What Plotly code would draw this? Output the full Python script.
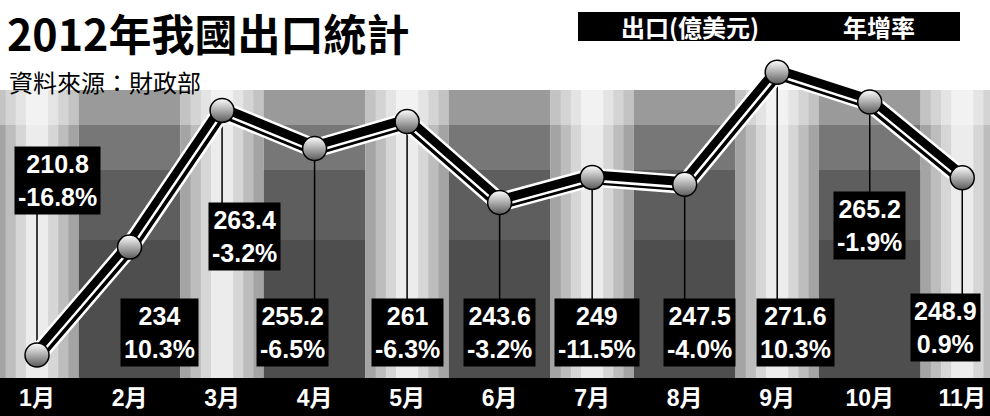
import plotly.graph_objects as go

# ---------------- data ----------------
months = ["1月", "2月", "3月", "4月", "5月", "6月", "7月", "8月", "9月", "10月", "11月"]
exports = [210.8, 234, 263.4, 255.2, 261, 243.6, 249, 247.5, 271.6, 265.2, 248.9]
growth = ["-16.8%", "10.3%", "-3.2%", "-6.5%", "-6.3%", "-3.2%", "-11.5%", "-4.0%", "10.3%", "-1.9%", "0.9%"]
export_labels = ["210.8", "234", "263.4", "255.2", "261", "243.6", "249", "247.5", "271.6", "265.2", "248.9"]

title = "2012年我國出口統計"
source = "資料來源：財政部"
legend_export = "出口(億美元)"
legend_growth = "年增率"

# ---------------- layout constants ----------------
W, H = 990, 416
BAND = 38                       # black month band at bottom
PH = H - BAND                   # plot height in px
YMIN, YMAX = 205.85, 287.15
XMIN, XMAX = -0.4, 10.3

def py(pix):                    # pixel row (from top) -> paper y
    return 1 - pix / PH

def pdata(pix):                 # pixel row -> data y
    return YMIN + (PH - pix) / PH * (YMAX - YMIN)

# label box style positions (pixel row of box centre, x offset in category units)
label_row = [180, 332, 236, 332, 332, 332, 332, 332, 332, 225, 327]
label_dx = [0.22, 0.32, 0.24, -0.24, 0.0, 0.0, 0.05, 0.16, 0.2, 0.0, -0.18]
draw_stem = [True, False, True, True, True, True, True, True, True, True, True]

CJK = "Noto Sans CJK TC"
NUM = "Liberation Sans, Noto Sans CJK TC"

fig = go.Figure()

# ---------------- background columns ----------------
col_top = 90
shapes = []
for i in range(len(months)):
    if i % 2 == 1:  # dark columns
        x0, x1 = i - 0.55, i + 0.55
        bands = [(col_top, 125, "#9a9a9a"), (125, 170, "#777777"), (170, 240, "#5e5e5e"), (240, PH, "#4e4e4e")]
        for t, b, c in bands:
            shapes.append(dict(type="rect", xref="x", yref="paper", x0=x0, x1=x1,
                               y0=py(b), y1=py(t), fillcolor=c, line_width=0, layer="below"))
    else:           # light columns with bright centre
        layers = [(0.45, "#a4a4a4"), (0.34, "#bdbdbd"), (0.23, "#d6d6d6"), (0.12, "#ececec")]
        for hw, c in layers:
            shapes.append(dict(type="rect", xref="x", yref="paper", x0=i - hw, x1=i + hw,
                               y0=py(PH), y1=py(col_top), fillcolor=c, line_width=0, layer="below"))
        shapes.append(dict(type="rect", xref="x", yref="paper", x0=i - 0.45, x1=i + 0.45,
                           y0=py(125), y1=py(col_top), fillcolor="rgba(255,255,255,0.35)",
                           line_width=0, layer="below"))

# black month band
shapes.append(dict(type="rect", xref="paper", yref="paper", x0=0, x1=1,
                   y0=-BAND / PH, y1=0, fillcolor="black", line_width=0, layer="below"))
# legend bar
shapes.append(dict(type="rect", xref="paper", yref="paper", x0=578 / W, x1=960 / W,
                   y0=py(41), y1=py(12), fillcolor="black", line_width=0, layer="above"))

# ---------------- stems from markers to label boxes ----------------
for i, v in enumerate(exports):
    if not draw_stem[i]:
        continue
    fig.add_trace(go.Scatter(x=[i, i], y=[v, pdata(label_row[i])], mode="lines",
                             line=dict(color="black", width=1.5), hoverinfo="skip",
                             showlegend=False))

xs = list(range(len(months)))
# ---------------- thick line ----------------
fig.add_trace(go.Scatter(x=xs, y=exports, mode="lines", line=dict(color="white", width=19),
                         hoverinfo="skip", showlegend=False))
fig.add_trace(go.Scatter(x=xs, y=exports, mode="lines", line=dict(color="black", width=14),
                         hoverinfo="skip", showlegend=False))
fig.add_trace(go.Scatter(x=xs, y=[v - 0.7 for v in exports], mode="lines",
                         line=dict(color="white", width=2.5), hoverinfo="skip", showlegend=False))
# ---------------- sphere markers ----------------
fig.add_trace(go.Scatter(x=xs, y=exports, mode="markers",
                         marker=dict(size=24, color="white",
                                     gradient=dict(type="vertical", color="#5a5a5a"),
                                     line=dict(color="black", width=1.5)),
                         hoverinfo="skip", showlegend=False))

# ---------------- annotations ----------------
ann = []
for i in range(len(months)):
    ann.append(dict(x=i + label_dx[i], y=py(label_row[i]), xref="x", yref="paper",
                    text=f"{export_labels[i]}<br>{growth[i]}", showarrow=False,
                    font=dict(family=NUM, size=25, color="white", weight="bold"),
                    bgcolor="black", borderpad=3, align="center",
                    xanchor="center", yanchor="middle"))

ann.append(dict(x=6 / W, y=py(32), xref="paper", yref="paper", text=title, showarrow=False,
                xanchor="left", yanchor="middle", borderpad=0,
                font=dict(family=CJK, size=43, color="black", weight="bold")))
ann.append(dict(x=8 / W, y=py(81), xref="paper", yref="paper", text=source, showarrow=False,
                xanchor="left", yanchor="middle", borderpad=0,
                font=dict(family=CJK, size=24, color="black")))
ann.append(dict(x=690 / W, y=py(27), xref="paper", yref="paper", text=legend_export,
                showarrow=False, xanchor="center", yanchor="middle",
                font=dict(family=CJK, size=24, color="white", weight="bold")))
ann.append(dict(x=879 / W, y=py(27), xref="paper", yref="paper", text=legend_growth,
                showarrow=False, xanchor="center", yanchor="middle",
                font=dict(family=CJK, size=24, color="white", weight="bold")))

fig.update_layout(
    width=W, height=H,
    margin=dict(l=0, r=0, t=0, b=BAND, pad=0),
    paper_bgcolor="white", plot_bgcolor="rgba(0,0,0,0)",
    shapes=shapes, annotations=ann, showlegend=False,
    xaxis=dict(range=[XMIN, XMAX], tickvals=xs, ticktext=months, showgrid=False,
               zeroline=False, showline=False, ticks="", fixedrange=True,
               ticklabelstandoff=4,
               tickfont=dict(family=NUM, size=23, color="white", weight="bold")),
    yaxis=dict(range=[YMIN, YMAX], visible=False, fixedrange=True),
)

fig.write_html("out.html", config={"displayModeBar": False},
               post_script="document.body.style.margin='0';document.body.style.overflow='hidden';")
